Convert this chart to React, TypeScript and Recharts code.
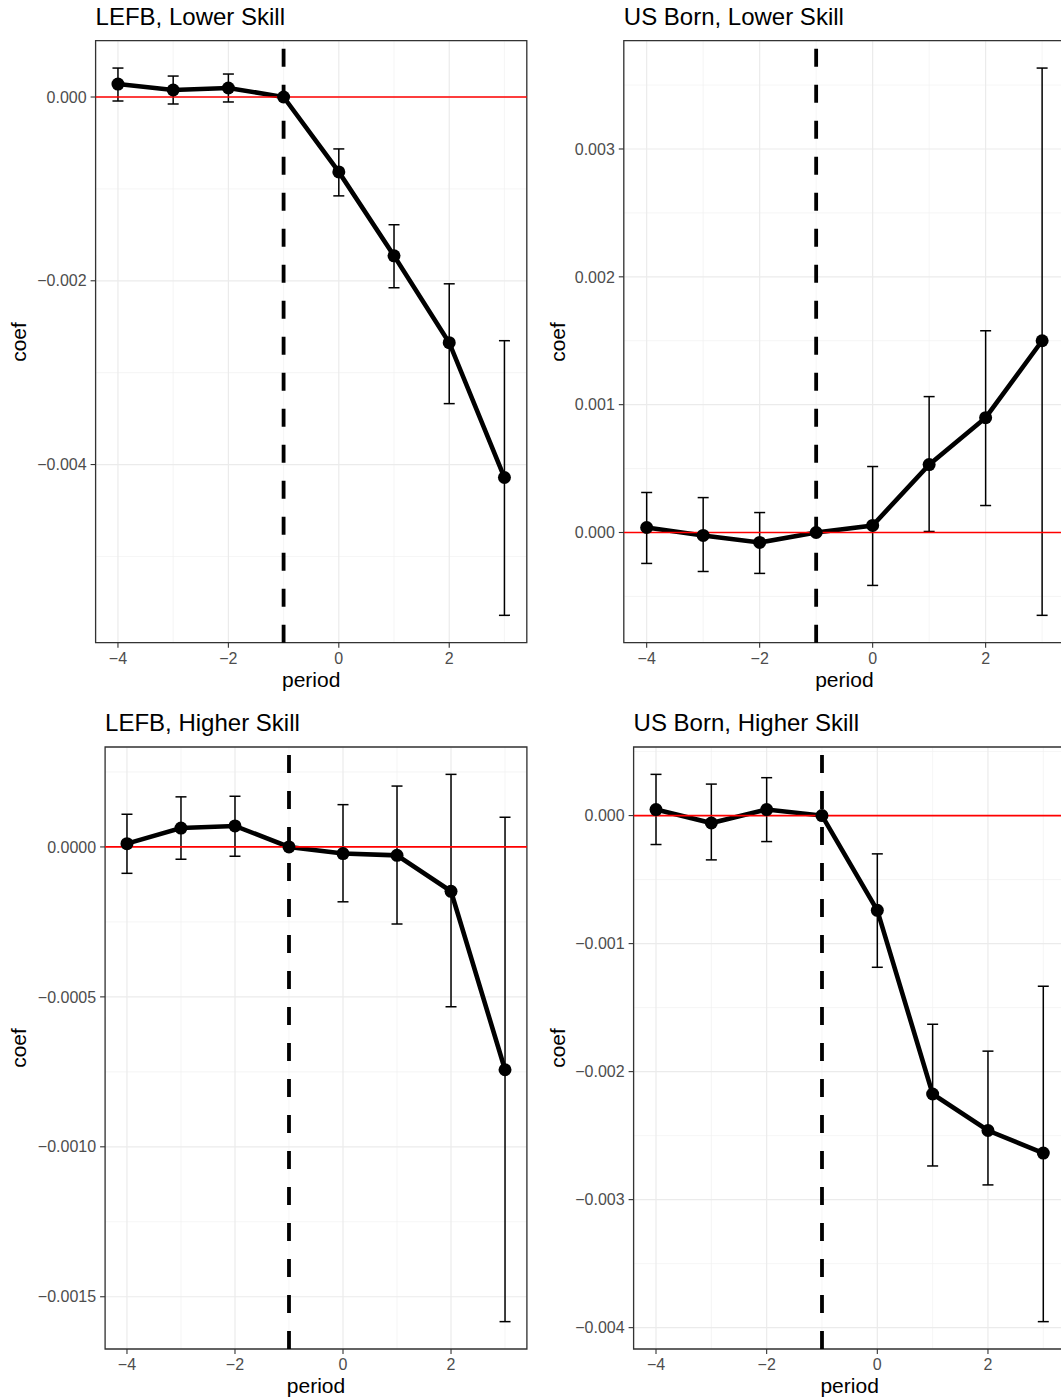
import React from 'react';
import {
  ComposedChart,
  Line,
  XAxis,
  YAxis,
  CartesianGrid,
  ReferenceLine,
  ReferenceArea,
  ErrorBar,
} from 'recharts';

// ---------- data ----------
const periods = [-4, -3, -2, -1, 0, 1, 2, 3];

const xTicks = [-4, -2, 0, 2];
const xTickLabels = ['\u22124', '\u22122', '0', '2'];
const xMinor = [-3, -1, 1, 3];

// LEFB, Lower Skill
const lefbLowCoef = [0.000141, 0.000076, 0.000098, 0, -0.000815, -0.001728, -0.002674, -0.004141];
const lefbLowLo = [-0.0000435, -0.000076, -0.000054, 0, -0.001076, -0.002076, -0.003337, -0.005641];
const lefbLowHi = [0.000315, 0.000228, 0.00025, 0, -0.000565, -0.00139, -0.002033, -0.002652];
const lefbLowYTicks = [0, -0.002, -0.004];
const lefbLowYLabels = ['0.000', '\u22120.002', '\u22120.004'];
const lefbLowYMinor = [-0.001, -0.003, -0.005];

// US Born, Lower Skill
const usLowCoef = [0.000039, -0.000023, -0.000078, 0, 0.000055, 0.000531, 0.000898, 0.0015];
const usLowLo = [-0.000242, -0.000305, -0.00032, 0, -0.000414, 0.000008, 0.000211, -0.000648];
const usLowHi = [0.000313, 0.000273, 0.000156, 0, 0.000516, 0.001063, 0.001578, 0.003633];
const usLowYTicks = [0, 0.001, 0.002, 0.003];
const usLowYLabels = ['0.000', '0.001', '0.002', '0.003'];
const usLowYMinor = [-0.0005, 0.0005, 0.0015, 0.0025, 0.0035];

// LEFB, Higher Skill
const lefbHighCoef = [0.000011, 0.000063, 0.00007, 0, -0.000022, -0.000028, -0.000148, -0.000743];
const lefbHighLo = [-0.000088, -0.000041, -0.000031, 0, -0.000183, -0.000257, -0.000533, -0.001583];
const lefbHighHi = [0.000109, 0.000167, 0.000169, 0, 0.000141, 0.000203, 0.000242, 0.000099];
const lefbHighYTicks = [0, -0.0005, -0.001, -0.0015];
const lefbHighYLabels = ['0.0000', '\u22120.0005', '\u22120.0010', '\u22120.0015'];
const lefbHighYMinor = [0.00025, -0.00025, -0.00075, -0.00125];

// US Born, Higher Skill
const usHighCoef = [0.000047, -0.000058, 0.000047, 0, -0.00074, -0.002175, -0.00246, -0.002636];
const usHighLo = [-0.000226, -0.000346, -0.000203, 0, -0.001185, -0.002737, -0.002885, -0.003953];
const usHighHi = [0.000322, 0.000246, 0.000296, 0, -0.000299, -0.00163, -0.00184, -0.001333];
const usHighYTicks = [0, -0.001, -0.002, -0.003, -0.004];
const usHighYLabels = ['0.000', '\u22120.001', '\u22120.002', '\u22120.003', '\u22120.004'];
const usHighYMinor = [0.0005, -0.0005, -0.0015, -0.0025, -0.0035];

const panelTitles = ['LEFB, Lower Skill', 'US Born, Lower Skill', 'LEFB, Higher Skill', 'US Born, Higher Skill'];

// ---------- layout ----------
const FONT = '"Liberation Sans", Arial, Helvetica, sans-serif';

type PanelCfg = {
  title: string;
  coef: number[];
  lo: number[];
  hi: number[];
  yTicks: number[];
  yLabels: string[];
  yMinor: number[];
  left: number;
  top: number;
  width: number;
  height: number;
  plotLeft: number;
  plotRight: number;
  plotTop: number;
  plotBottom: number;
  coefX: number;
};

const XAXIS_H = 40;

const panels: PanelCfg[] = [
  {
    title: panelTitles[0], coef: lefbLowCoef, lo: lefbLowLo, hi: lefbLowHi,
    yTicks: lefbLowYTicks, yLabels: lefbLowYLabels, yMinor: lefbLowYMinor,
    left: 0, top: 0, width: 540, height: 700,
    plotLeft: 95.6, plotRight: 526.8, plotTop: 40.7, plotBottom: 642.7, coefX: 18,
  },
  {
    title: panelTitles[1], coef: usLowCoef, lo: usLowLo, hi: usLowHi,
    yTicks: usLowYTicks, yLabels: usLowYLabels, yMinor: usLowYMinor,
    left: 540, top: 0, width: 530, height: 700,
    plotLeft: 623.8, plotRight: 1065, plotTop: 40.7, plotBottom: 642.7, coefX: 557,
  },
  {
    title: panelTitles[2], coef: lefbHighCoef, lo: lefbHighLo, hi: lefbHighHi,
    yTicks: lefbHighYTicks, yLabels: lefbHighYLabels, yMinor: lefbHighYMinor,
    left: 0, top: 700, width: 540, height: 700,
    plotLeft: 105.1, plotRight: 526.9, plotTop: 747, plotBottom: 1349, coefX: 18,
  },
  {
    title: panelTitles[3], coef: usHighCoef, lo: usHighLo, hi: usHighHi,
    yTicks: usHighYTicks, yLabels: usHighYLabels, yMinor: usHighYMinor,
    left: 540, top: 700, width: 530, height: 700,
    plotLeft: 633.6, plotRight: 1065.7, plotTop: 747, plotBottom: 1349, coefX: 557,
  },
];

function expand(min: number, max: number): [number, number] {
  const r = max - min;
  return [min - 0.05 * r, max + 0.05 * r];
}

const ERR_HALF = 0.05; // errorbar width 0.1 in data units
const xDomain = expand(periods[0] - ERR_HALF, periods[periods.length - 1] + ERR_HALF);

function Panel({ cfg }: { cfg: PanelCfg }) {
  const data = periods.map((p, i) => ({
    period: p,
    coef: cfg.coef[i],
    err: [cfg.coef[i] - cfg.lo[i], cfg.hi[i] - cfg.coef[i]],
  }));
  const yDomain = expand(
    Math.min(...cfg.lo, ...cfg.coef, 0),
    Math.max(...cfg.hi, ...cfg.coef, 0)
  );
  const margin = {
    top: cfg.plotTop - cfg.top,
    left: 0,
    right: cfg.left + cfg.width - cfg.plotRight,
    bottom: cfg.top + cfg.height - cfg.plotBottom - XAXIS_H,
  };
  const yAxisW = cfg.plotLeft - cfg.left;
  const tickStyle = { fontSize: 16, fill: '#4D4D4D', fontFamily: FONT };
  return (
    <div style={{ position: 'absolute', left: cfg.left, top: cfg.top, width: cfg.width, height: cfg.height }}>
      <ComposedChart width={cfg.width} height={cfg.height} data={data} margin={margin}>
        <CartesianGrid
          stroke="#F0F0F0"
          strokeWidth={0.7}
          horizontalValues={cfg.yMinor}
          verticalValues={xMinor}
        />
        <CartesianGrid stroke="#EBEBEB" strokeWidth={1.2} />
        <XAxis
          dataKey="period"
          type="number"
          domain={xDomain}
          allowDataOverflow
          ticks={xTicks}
          interval={0}
          tickFormatter={(v: number) => xTickLabels[xTicks.indexOf(v)] ?? String(v)}
          height={XAXIS_H}
          axisLine={false}
          tickLine={{ stroke: '#333333', strokeWidth: 1.1 }}
          tickSize={5}
          tickMargin={5}
          tick={tickStyle}
        />
        <YAxis
          type="number"
          domain={yDomain}
          allowDataOverflow
          ticks={cfg.yTicks}
          interval={0}
          tickFormatter={(v: number) => cfg.yLabels[cfg.yTicks.indexOf(v)] ?? String(v)}
          width={yAxisW}
          axisLine={false}
          tickLine={{ stroke: '#333333', strokeWidth: 1.1 }}
          tickSize={5}
          tickMargin={4}
          tick={tickStyle}
        />
        <Line
          dataKey="coef"
          stroke="#000000"
          strokeWidth={4.6}
          dot={{ r: 6.5, fill: '#000000', stroke: '#000000', strokeWidth: 0 }}
          activeDot={false}
          isAnimationActive={false}
        >
          <ErrorBar dataKey="err" direction="y" width={5.5} stroke="#000000" strokeWidth={1.5} isAnimationActive={false} />
        </Line>
        <ReferenceLine y={0} stroke="#FF0000" strokeWidth={1.7} />
        <ReferenceLine x={-1} stroke="#000000" strokeWidth={3.8} strokeDasharray="18 18" />
        <ReferenceArea
          x1={xDomain[0]}
          x2={xDomain[1]}
          y1={yDomain[0]}
          y2={yDomain[1]}
          fill="none"
          fillOpacity={0}
          stroke="#333333"
          strokeWidth={1.3}
        />
      </ComposedChart>
    </div>
  );
}

export default function App() {
  return (
    <div
      style={{
        position: 'fixed',
        left: 0,
        top: 0,
        width: 1061,
        height: 1400,
        overflow: 'hidden',
        background: '#FFFFFF',
        fontFamily: FONT,
      }}
    >
      {panels.map((cfg, i) => (
        <React.Fragment key={i}>
          <Panel cfg={cfg} />
          <div
            style={{
              position: 'absolute',
              left: cfg.plotLeft,
              top: cfg.top + (cfg.top === 0 ? 5.2 : 10.9),
              fontSize: 24,
              lineHeight: 1,
              color: '#000000',
              whiteSpace: 'nowrap',
            }}
          >
            {cfg.title}
          </div>
          <div
            style={{
              position: 'absolute',
              left: (cfg.plotLeft + cfg.plotRight) / 2,
              top: cfg.plotBottom + 26,
              transform: 'translateX(-50%)',
              fontSize: 21,
              lineHeight: 1,
              color: '#000000',
              whiteSpace: 'nowrap',
            }}
          >
            period
          </div>
          <div
            style={{
              position: 'absolute',
              left: cfg.coefX,
              top: (cfg.plotTop + cfg.plotBottom) / 2,
              transform: 'translate(-50%, -50%) rotate(-90deg)',
              fontSize: 21,
              lineHeight: 1,
              color: '#000000',
              whiteSpace: 'nowrap',
            }}
          >
            coef
          </div>
        </React.Fragment>
      ))}
    </div>
  );
}
